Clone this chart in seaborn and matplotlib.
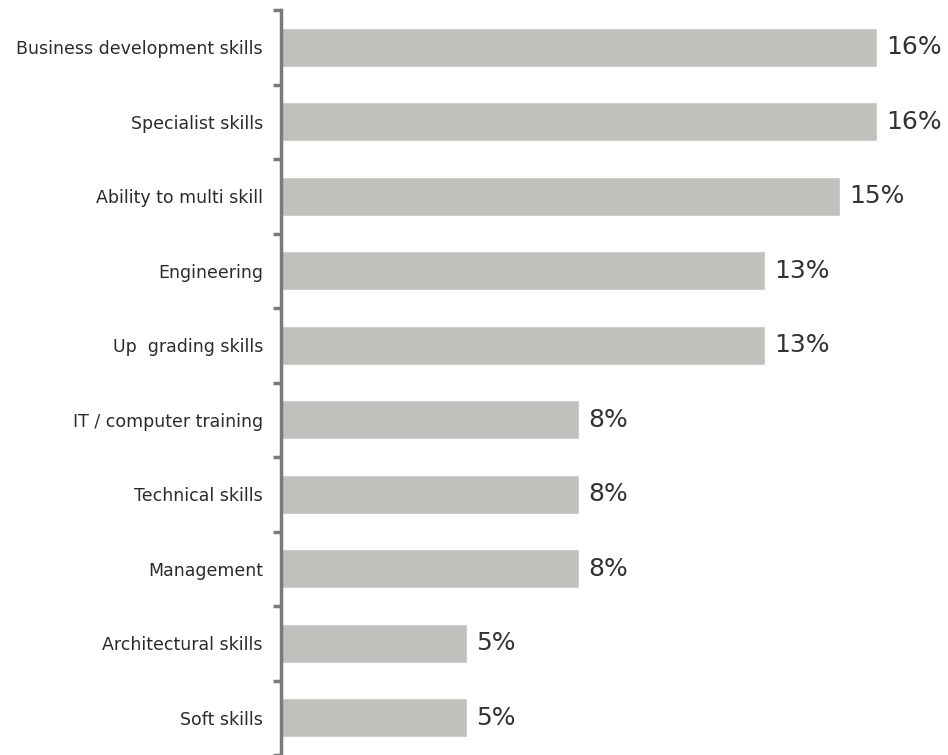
import matplotlib
matplotlib.use("Agg")
import matplotlib.pyplot as plt
import seaborn as sns
import numpy as np
import pandas as pd

categories = [
    "Business development skills",
    "Specialist skills",
    "Ability to multi skill",
    "Engineering",
    "Up  grading skills",
    "IT / computer training",
    "Technical skills",
    "Management",
    "Architectural skills",
    "Soft skills",
]
values = [16, 16, 15, 13, 13, 8, 8, 8, 5, 5]
value_labels = ["16%", "16%", "15%", "13%", "13%", "8%", "8%", "8%", "5%", "5%"]

df = pd.DataFrame({"skill": categories, "share": values})

sns.set_style("white")
plt.rcParams["font.family"] = ["DejaVu Sans"]

fig = plt.figure(figsize=(9.48, 7.55), dpi=100)
ax = fig.add_axes([281 / 948, 0.0, (940 - 281) / 948, 1 - 10 / 755])

sns.barplot(data=df, y="skill", x="share", orient="h", color="#c1c0bc",
            saturation=1, width=0.52, ax=ax)

ax.set_xlim(0, 659 / 37.25)
ax.set_ylim(len(categories) - 0.5, -0.5)

for i, (v, lab) in enumerate(zip(values, value_labels)):
    ax.text(v + 0.25, i, lab, va="center", ha="left", fontsize=18,
            color="#333333")

ax.set_xlabel("")
ax.set_ylabel("")
ax.set_xticks([])
for s in ["top", "right", "bottom"]:
    ax.spines[s].set_visible(False)
ax.spines["left"].set_color("#7b7b7b")
ax.spines["left"].set_linewidth(2.5)

ax.tick_params(axis="y", which="major", left=False, length=0, pad=13,
               labelsize=12.5, labelcolor="#2b2b2b")
ax.set_yticks(np.arange(-0.5, len(categories), 1.0), minor=True)
ax.tick_params(axis="y", which="minor", left=True, length=6, width=2.5,
               color="#7b7b7b")

fig.savefig("out.png", dpi=100)
